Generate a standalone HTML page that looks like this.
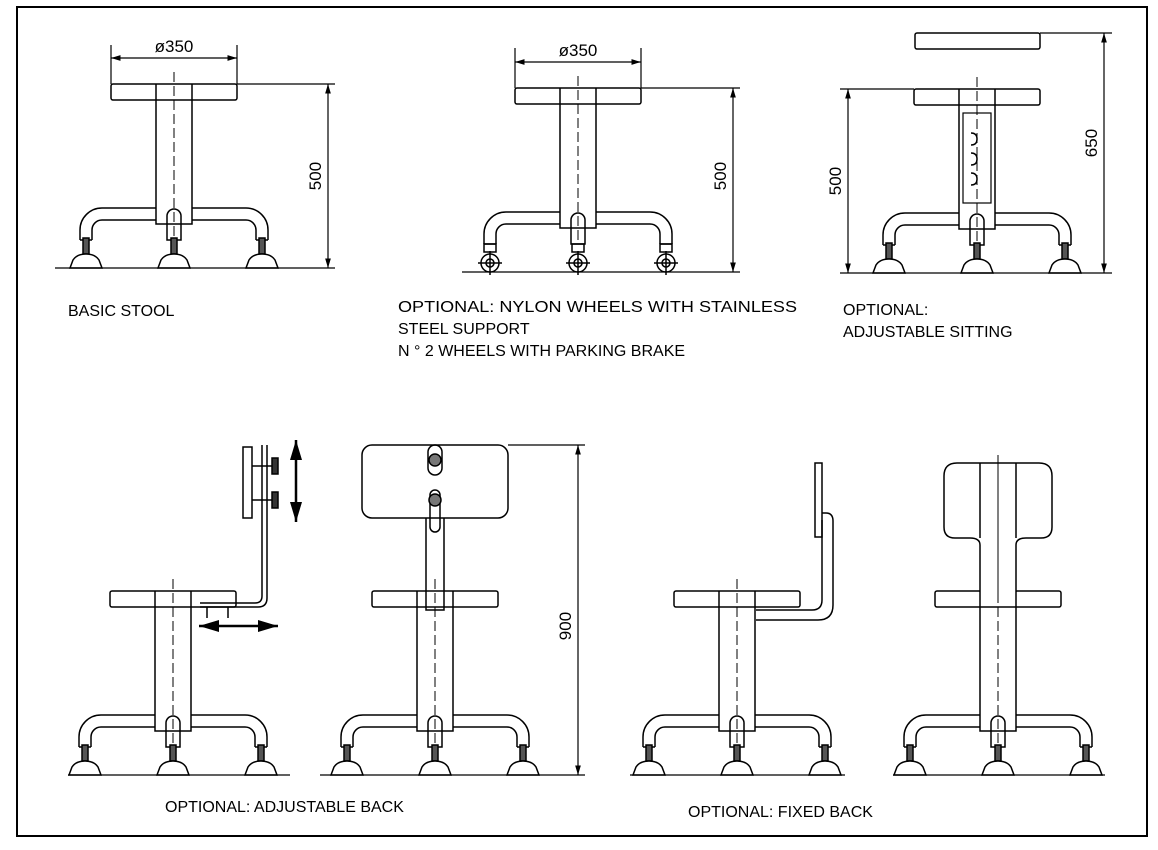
<!DOCTYPE html>
<html><head><meta charset="utf-8"><style>
html,body{margin:0;padding:0;background:#fff;}
svg{display:block;}
text{font-family:"Liberation Sans",Arial,sans-serif;fill:#000;}
</style></head><body>
<svg width="1158" height="850" viewBox="0 0 1158 850" xmlns="http://www.w3.org/2000/svg">
<defs>
<marker id="ar" viewBox="0 0 10 10" refX="10" refY="5" markerWidth="8" markerHeight="8" orient="auto-start-reverse"><path d="M0,2 L10,5 L0,8 z" fill="#000"/></marker>
<g id="base" fill="none" stroke="#000" stroke-width="1.5">
  <path d="M-18,-60 L-72,-60 A22,22 0 0 0 -94,-38 L-94,-28"/>
  <path d="M-18,-48 L-72,-48 A10,10 0 0 0 -82,-38 L-82,-28"/>
  <path d="M-94,-28 L-82,-28"/>
  <path d="M18,-60 L72,-60 A22,22 0 0 1 94,-38 L94,-28"/>
  <path d="M18,-48 L72,-48 A10,10 0 0 1 82,-38 L82,-28"/>
  <path d="M94,-28 L82,-28"/>
  <path d="M-7,-28 L-7,-52 A7,7 0 0 1 7,-52 L7,-28 Z"/>
  <path d="M-18,-60 L-18,-44 L18,-44 L18,-60"/>
</g>
<g id="feet" fill="none" stroke="#000" stroke-width="1.5">
  <g id="foot"><rect x="-3" y="-30" width="6" height="16" fill="#555"/><path d="M-16,0 L-13,-8 Q-9,-14 0,-14 Q9,-14 13,-8 L16,0 Z" fill="#fff"/></g>
  <use href="#foot" x="-88"/><use href="#foot" x="88"/>
</g>
<g id="wheels" fill="none" stroke="#000" stroke-width="1.5">
  <g id="wh"><rect x="-6" y="-28" width="12" height="8"/><circle cx="0" cy="-9" r="9"/><circle cx="0" cy="-9" r="4"/><path d="M-12,-9 L12,-9 M0,-21 L0,3"/></g>
  <use href="#wh" x="-88"/><use href="#wh" x="88"/>
</g>
<g id="top" fill="none" stroke="#000" stroke-width="1.5">
  <rect x="-63" y="-184" width="126" height="16" rx="2" fill="#fff"/>
  <path d="M-18,-184 L-18,-60 M18,-184 L18,-60"/>
  <path d="M0,-196 L0,-30" stroke-width="1" stroke-dasharray="10,4"/>
</g>
</defs>
<rect x="17" y="7" width="1130" height="829" fill="none" stroke="#000" stroke-width="2"/>
<g stroke="#000" stroke-width="1.2" fill="none">
<g transform="translate(174,268)"><use href="#top"/><use href="#base"/><use href="#feet"/></g>
<line x1="55" y1="268" x2="335" y2="268"/>
<line x1="237" y1="84" x2="335" y2="84"/>
<line x1="328" y1="84" x2="328" y2="268" marker-start="url(#ar)" marker-end="url(#ar)"/>
<line x1="111" y1="45" x2="111" y2="84"/><line x1="237" y1="45" x2="237" y2="84"/>
<line x1="111" y1="58" x2="237" y2="58" marker-start="url(#ar)" marker-end="url(#ar)"/>
<g transform="translate(578,272)"><use href="#top"/><use href="#base"/><use href="#wheels"/></g>
<line x1="462" y1="272" x2="740" y2="272"/>
<line x1="641" y1="88" x2="740" y2="88"/>
<line x1="733" y1="88" x2="733" y2="272" marker-start="url(#ar)" marker-end="url(#ar)"/>
<line x1="515" y1="48" x2="515" y2="88"/><line x1="641" y1="48" x2="641" y2="88"/>
<line x1="515" y1="62" x2="641" y2="62" marker-start="url(#ar)" marker-end="url(#ar)"/>
<g transform="translate(977,273)"><use href="#top"/><use href="#base"/><use href="#feet"/>
  <rect x="-14" y="-160" width="28" height="90"/>
  <path d="M-6,-140 q6,0 6,6 q0,6 -6,6 M-6,-120 q6,0 6,6 q0,6 -6,6 M-6,-100 q6,0 6,6 q0,6 -6,6" stroke-width="1.5"/>
</g>
<rect x="915" y="33" width="125" height="16" rx="2" stroke-width="1.5"/>
<line x1="840" y1="273" x2="1112" y2="273"/>
<line x1="840" y1="89" x2="914" y2="89"/>
<line x1="848" y1="89" x2="848" y2="273" marker-start="url(#ar)" marker-end="url(#ar)"/>
<line x1="1040" y1="33" x2="1112" y2="33"/>
<line x1="1104" y1="33" x2="1104" y2="273" marker-start="url(#ar)" marker-end="url(#ar)"/>
<g transform="translate(173,775)"><use href="#top"/><use href="#base"/><use href="#feet"/></g>
<line x1="68" y1="775" x2="290" y2="775"/>
<g stroke-width="1.5">
<rect x="243" y="447" width="9" height="71"/>
<path d="M262,445 L262,596 Q262,603 255,603 L200,603 M267,445 L267,598 Q267,607 258,607 L200,607"/>
<path d="M252,466 L275,466 M252,500 L275,500"/>
<rect x="272" y="458" width="6" height="16" fill="#333"/><rect x="272" y="492" width="6" height="16" fill="#333"/>
<path d="M207,607 L207,618 M228,607 L228,618"/>
</g>
<line x1="296" y1="440" x2="296" y2="522" stroke-width="2.5" marker-start="url(#ar)" marker-end="url(#ar)"/>
<line x1="199" y1="626" x2="278" y2="626" stroke-width="2.5" marker-start="url(#ar)" marker-end="url(#ar)"/>
<g transform="translate(435,775)"><use href="#top"/><use href="#base"/><use href="#feet"/></g>
<line x1="320" y1="775" x2="585" y2="775"/>
<g stroke-width="1.5">
<rect x="362" y="445" width="146" height="73" rx="10" fill="#fff"/>
<path d="M426,518 L426,610 L444,610 L444,518"/>
<rect x="428" y="445" width="14" height="30" rx="7"/>
<rect x="430" y="490" width="10" height="42" rx="5"/>
<circle cx="435" cy="460" r="6" fill="#777"/><circle cx="435" cy="500" r="6" fill="#777"/>
</g>
<line x1="508" y1="445" x2="585" y2="445"/>
<line x1="578" y1="445" x2="578" y2="775" marker-start="url(#ar)" marker-end="url(#ar)"/>
<g transform="translate(737,775)"><use href="#top"/><use href="#base"/><use href="#feet"/></g>
<line x1="630" y1="775" x2="845" y2="775"/>
<g stroke-width="1.5">
<rect x="815" y="463" width="7" height="74"/>
<path d="M822,513 L826,513 Q833,513 833,521 L833,605 Q833,620 818,620 L756,620 M822,520 L822,600 Q822,610 812,610 L756,610"/>
</g>
<g transform="translate(998,775)"><use href="#top"/><use href="#base"/><use href="#feet"/></g>
<line x1="893" y1="775" x2="1105" y2="775"/>
<g stroke-width="1.5">
<path d="M980,592 L980,545 Q980,538 970,538 L955,538 Q944,538 944,527 L944,476 Q944,463 957,463 L1039,463 Q1052,463 1052,476 L1052,527 Q1052,538 1041,538 L1026,538 Q1016,538 1016,545 L1016,592" fill="#fff"/>
<path d="M980,463 L980,538 M1016,463 L1016,538"/>
<line x1="998" y1="455" x2="998" y2="600" stroke-width="1"/>
</g>
</g>
<text x="174" y="52" font-size="17" text-anchor="middle">ø350</text>
<text x="578" y="56" font-size="17" text-anchor="middle">ø350</text>
<text font-size="17" text-anchor="middle" transform="translate(321,176) rotate(-90)">500</text>
<text font-size="17" text-anchor="middle" transform="translate(726,176) rotate(-90)">500</text>
<text font-size="17" text-anchor="middle" transform="translate(841,181) rotate(-90)">500</text>
<text font-size="17" text-anchor="middle" transform="translate(1097,143) rotate(-90)">650</text>
<text font-size="17" text-anchor="middle" transform="translate(571,626) rotate(-90)">900</text>
<g font-size="16">
<text x="68" y="316">BASIC STOOL</text>
<text x="398" y="312" textLength="399" lengthAdjust="spacingAndGlyphs">OPTIONAL: NYLON WHEELS WITH STAINLESS</text>
<text x="398" y="334">STEEL SUPPORT</text>
<text x="398" y="356">N ° 2 WHEELS WITH PARKING BRAKE</text>
<text x="843" y="315">OPTIONAL:</text>
<text x="843" y="337">ADJUSTABLE SITTING</text>
<text x="165" y="812">OPTIONAL: ADJUSTABLE BACK</text>
<text x="688" y="817">OPTIONAL: FIXED BACK</text>
</g>
</svg>
</body></html>
